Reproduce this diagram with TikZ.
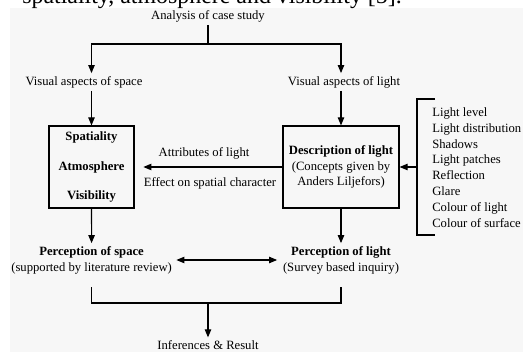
\documentclass[tikz,border=0pt]{standalone}
\usepackage{fontspec}
\setmainfont{Liberation Serif}
\usepackage{tikz}
\usetikzlibrary{arrows.meta,positioning,calc}

\begin{document}
\begin{tikzpicture}[
    box/.style={draw, line width=0.8pt, minimum height=2.05cm, align=center, inner sep=2pt, font=\fontsize{9}{11.3}\selectfont},
    lbl/.style={align=center, inner sep=2pt, font=\fontsize{9}{11.3}\selectfont},
    arrow/.style={-{Triangle[length=2mm, width=1.6mm]}, line width=0.8pt},
    darrow/.style={{Triangle[length=2mm, width=1.6mm]}-{Triangle[length=2mm, width=1.6mm]}, line width=0.8pt},
    line/.style={line width=0.8pt}
]
\useasboundingbox (0,0) rectangle (13.075,8.8);
\fill[black!3] (0.25,0) rectangle (13.075,8.6);

% Page text above the figure
\node[anchor=base west, inner sep=0, font=\fontsize{17}{20}\selectfont] (pagetext) at (0.55,8.71) {spatiality, atmosphere and visibility [5].};

% Case study
\node[lbl] (analysis) at (5.2,8.4) {Analysis of case study};
\coordinate (split) at (5.2,7.7);

% Visual aspects
\node[lbl] (vspace) at (2.1,6.75) {Visual aspects of space};
\node[lbl] (vlight) at (8.6,6.75) {Visual aspects of light};

% Boxes
\node[box, minimum width=2.125cm] (sbox) at (2.2875,4.625) {\textbf{Spatiality}\\[10pt]\textbf{Atmosphere}\\[10pt]\textbf{Visibility}};
\node[box, minimum width=2.9cm] (dbox) at (8.525,4.625) {\textbf{Description of light}\\(Concepts given by\\Anders Liljefors)};
\node[lbl] (attr) at (5.1,4.975) {Attributes of light};
\node[lbl] (effect) at (5.25,4.225) {Effect on spatial character};

% Light concepts
\node[lbl, anchor=west, align=left, inner sep=0] (concepts) at (10.8,4.61) {Light level\\Light distribution\\Shadows\\Light patches\\Reflection\\Glare\\Colour of light\\Colour of surface};
\coordinate (brtop) at (10.425,6.325);
\coordinate (brbot) at (10.425,2.925);
\coordinate (brtopend) at (10.875,6.325);
\coordinate (brbotend) at (10.875,2.925);
\coordinate (brmid) at (10.425,4.625);

% Perception
\node[lbl] (pspace) at (2.29,2.3) {\textbf{Perception of space}\\(supported by literature review)};
\node[lbl] (plight) at (8.525,2.3) {\textbf{Perception of light}\\(Survey based inquiry)};

% Result
\coordinate (jl) at (2.29,1.625);
\coordinate (jr) at (8.525,1.625);
\coordinate (join) at (5.2,1.225);
\node[lbl] (result) at (5.2,0.175) {Inferences \& Result};

% Arrows
\draw[line] (analysis) -- (split);
\draw[arrow] (split) -| (vspace.north -| sbox);
\draw[arrow] (split) -| (vlight.north -| dbox);
\draw[arrow] (vspace.south -| sbox) -- (sbox);
\draw[arrow] (vlight.south -| dbox) -- (dbox);
\draw[arrow, shorten >=2.2mm] (dbox) -- (sbox);
\draw[line] (brtopend) -- (brtop) -- (brbot) -- (brbotend);
\draw[arrow] (brmid) -- (dbox);
\draw[arrow] (sbox) -- (pspace);
\draw[arrow] (dbox) -- (plight);
\draw[darrow, shorten <=1pt, shorten >=2pt] (pspace) -- (plight);
\draw[line] (jl) |- (join) -| (jr);
\draw[arrow] (join) -- (result);
\end{tikzpicture}
\end{document}
